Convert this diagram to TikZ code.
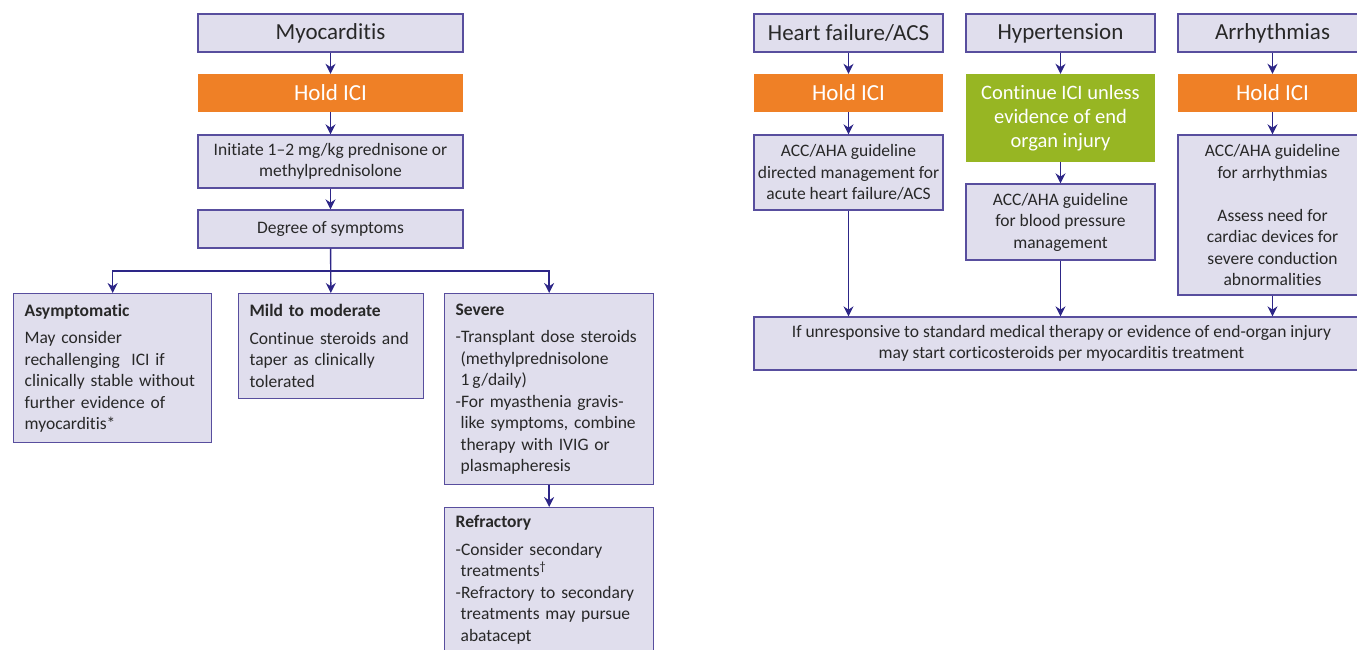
\documentclass[tikz,border=0pt]{standalone}
\usepackage{fontspec}
\setmainfont{Carlito}[Ligatures={TeX,NoCommon}]
\usepackage{tikz}
\usetikzlibrary{arrows.meta,positioning}
\definecolor{boxFill}{RGB}{224,222,237}
\definecolor{boxLine}{RGB}{88,78,158}
\definecolor{arrowBlue}{RGB}{45,38,135}
\definecolor{holdOrange}{RGB}{239,128,38}
\definecolor{contGreen}{RGB}{151,182,35}
\definecolor{textGray}{RGB}{40,40,40}
\newcommand{\bodytxt}{\fontsize{17.5}{21.5}\selectfont}
\newcommand{\titletxt}{\fontsize{23}{24}\selectfont}
\newcommand{\greentxt}{\fontsize{20.5}{24}\selectfont}

\begin{document}
\begin{tikzpicture}[x=1pt,y=-1pt,
        bx/.style={draw=boxLine, fill=boxFill, line width=1.3pt, inner sep=0pt,
                   text=textGray, align=center, font=\bodytxt},
        ttl/.style={bx, font=\titletxt, minimum height=38pt},
        hold/.style={fill=holdOrange, text=white, font=\titletxt, inner sep=0pt,
                     minimum height=38pt},
        lbx/.style={bx, anchor=north west, align=left, inner xsep=11pt},
        arr/.style={-{Stealth[length=10pt,width=10pt]}, line width=1.4pt, arrowBlue}
      ]
        \useasboundingbox (0,0) rectangle (1357,649);
        \clip (0,0) rectangle (1357,649);
        % LEFT: Myocarditis
        \node[ttl, minimum width=265pt] (myo) at (330.5,33) {Myocarditis};
        \node[hold, minimum width=265pt] (hold1) at (330.5,93) {Hold ICI};
        \node[bx, minimum width=265pt, minimum height=53pt] (init) at (330.5,161.5)
          {Initiate 1--2 mg/kg prednisone or\\methylprednisolone};
        \node[bx, minimum width=265pt, minimum height=38pt] (degree) at (330.5,229) {Degree of symptoms};
        \coordinate (split) at (330.5,271);
        \node[lbx, text width=176pt, minimum height=149pt] (asym) at (13,293)
          {\textbf{Asymptomatic}\\[6pt]May consider\\rechallenging\ \ ICI if\\clinically stable without\\further evidence of\\myocarditis*};
        \node[lbx, text width=163pt, minimum height=105pt] (mild) at (238,293)
          {\textbf{Mild to moderate}\\[6pt]Continue steroids and\\taper as clinically\\tolerated};
        \node[lbx, text width=187pt, minimum height=191pt] (severe) at (444,293)
          {\textbf{Severe}\\[6pt]-Transplant dose steroids\\\hspace*{5pt}(methylprednisolone\\\hspace*{5pt}1\,g/daily)\\-For myasthenia gravis-\\\hspace*{5pt}like symptoms, combine\\\hspace*{5pt}therapy with IVIG or\\\hspace*{5pt}plasmapheresis};
        \node[lbx, text width=187pt, minimum height=165pt] (refr) at (444,507)
          {\textbf{Refractory}\\[6pt]-Consider secondary\\\hspace*{5pt}treatments\textsuperscript{†}\\-Refractory to secondary\\\hspace*{5pt}treatments may pursue\\\hspace*{5pt}abatacept\\[2pt]\mbox{}};
        \draw[arr] (myo) -- (hold1);
        \draw[arr] (hold1) -- (init);
        \draw[arr] (init) -- (degree);
        \draw[arr] (degree) -- (mild);
        \draw[arr] (split) -| (asym.north);
        \draw[arr] (split) -| (severe.north);
        \draw[arr] (severe) -- (refr);
        % RIGHT: other cardiovascular events
        \node[ttl, minimum width=189pt] (hf) at (848.5,33) {Heart failure/ACS};
        \node[ttl, minimum width=189pt] (htn) at (1060.5,33) {Hypertension};
        \node[ttl, minimum width=189pt] (arrh) at (1272.5,33) {Arrhythmias};
        \node[hold, minimum width=189pt] (hold2) at (848.5,93) {Hold ICI};
        \node[hold, fill=contGreen, font=\greentxt, minimum width=189pt, minimum height=88pt,
              align=center] (cont) at (1060.5,118) {Continue ICI unless\\evidence of end\\organ injury};
        \node[hold, minimum width=189pt] (hold3) at (1272.5,93) {Hold ICI};
        \node[bx, minimum width=189pt, minimum height=75pt] (acchf) at (848.5,172.5)
          {ACC/AHA guideline\\directed management for\\acute heart failure/ACS};
        \node[bx, minimum width=189pt, minimum height=76pt] (accbp) at (1060.5,222)
          {ACC/AHA guideline\\for blood pressure\\management};
        \node[bx, minimum width=189pt, minimum height=160pt] (accarr) at (1272.5,215)
          {ACC/AHA guideline\\for arrhythmias\\[21.5pt]Assess need for\\cardiac devices for\\severe conduction\\abnormalities};
        \node[bx, minimum width=615pt, minimum height=53pt] (steroid) at (1061.5,343.5)
          {If unresponsive to standard medical therapy or evidence of end-organ injury\\may start corticosteroids per myocarditis treatment};
        \draw[arr] (hf) -- (hold2);
        \draw[arr] (hold2) -- (acchf);
        \draw[arr] (htn) -- (cont);
        \draw[arr] (cont) -- (accbp);
        \draw[arr] (arrh) -- (hold3);
        \draw[arr] (hold3) -- (accarr);
        \draw[arr] (acchf) -- (acchf |- steroid.north);
        \draw[arr] (accbp) -- (accbp |- steroid.north);
        \draw[arr] (accarr) -- (accarr |- steroid.north);
      \end{tikzpicture}
\end{document}
